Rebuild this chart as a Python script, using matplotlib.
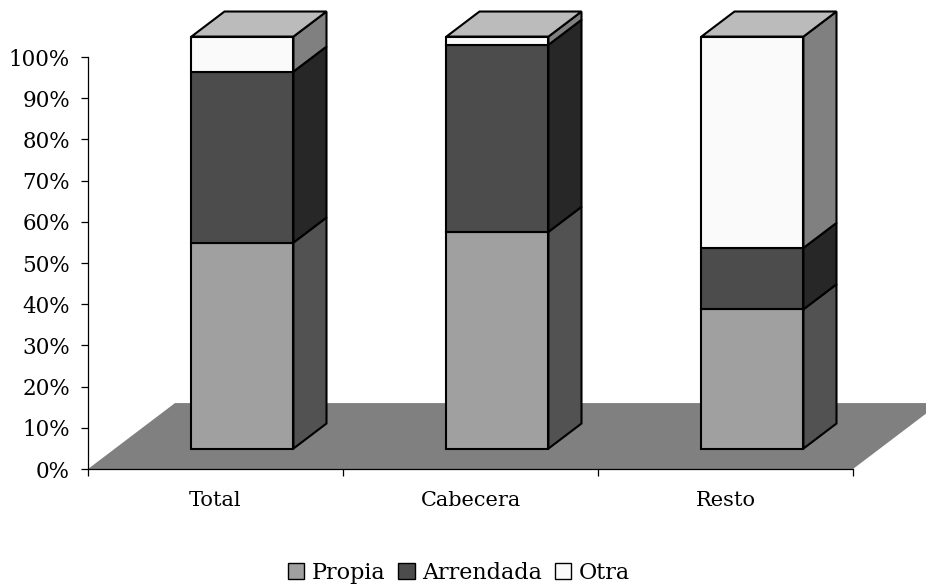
import numpy as np
import matplotlib.pyplot as plt
from matplotlib.patches import Polygon, Patch

categories = ["Total", "Cabecera", "Resto"]
series = ["Propia", "Arrendada", "Otra"]
propia = [50.0, 52.6, 33.8]
arrendada = [41.5, 45.4, 14.9]
otra = [8.5, 2.0, 51.3]

# front / side / top shades for each series
front_col = ["#a0a0a0", "#4c4c4c", "#fafafa"]
side_col = ["#525252", "#272727", "#808080"]
top_col = ["#bbbbbb", "#7a7a7a", "#bbbbbb"]

# oblique projection of depth
DX, DY = 0.341, 16.0
d0, d1 = 0.31, 0.69
bw = 0.4

def proj(x, y, d):
	return (x + d*DX, y + d*DY)

plt.rcParams['font.family'] = ['DejaVu Serif']
fig = plt.figure(figsize=(9.26, 5.87), dpi=100)
ax = fig.add_axes([88/926, (587-469)/587, (853-88)/926, 412/587])
ax.set_xlim(0, 3)
ax.set_ylim(0, 100)

# floor
floor = [proj(0, 0, 0), proj(3, 0, 0), proj(3, 0, 1), proj(0, 0, 1)]
ax.add_patch(Polygon(floor, closed=True, facecolor="#808080", edgecolor="none", clip_on=False, zorder=1))

vals = np.array([propia, arrendada, otra])
lw = 1.5
for i in range(len(categories)):
	xl = i + 0.5 - bw/2
	xr = i + 0.5 + bw/2
	bottom = 0
	for s in range(len(series)):
		top = bottom + vals[s][i]
		fr = [proj(xl, bottom, d0), proj(xr, bottom, d0), proj(xr, top, d0), proj(xl, top, d0)]
		sd = [proj(xr, bottom, d0), proj(xr, bottom, d1), proj(xr, top, d1), proj(xr, top, d0)]
		ax.add_patch(Polygon(fr, closed=True, facecolor=front_col[s], edgecolor="black", lw=lw, clip_on=False, zorder=3))
		ax.add_patch(Polygon(sd, closed=True, facecolor=side_col[s], edgecolor="black", lw=lw, clip_on=False, zorder=3))
		bottom = top
	tp = [proj(xl, 100, d0), proj(xr, 100, d0), proj(xr, 100, d1), proj(xl, 100, d1)]
	ax.add_patch(Polygon(tp, closed=True, facecolor=top_col[2], edgecolor="black", lw=lw, clip_on=False, zorder=3))

for sp in ["top", "right"]:
	ax.spines[sp].set_visible(False)
ax.spines["left"].set_linewidth(0.9)
ax.spines["bottom"].set_linewidth(0.9)
ax.spines["bottom"].set_zorder(2)

ax.set_yticks(np.arange(0, 101, 10))
ax.set_yticklabels([str(v) + "%" for v in range(0, 101, 10)])
ax.tick_params(axis="y", length=5, width=0.9, pad=8, labelsize=15.5)
ax.set_xticks([0, 1, 2, 3])
ax.set_xticklabels([])
ax.set_xticks([0.5, 1.5, 2.5], minor=True)
ax.set_xticklabels(categories, minor=True)
ax.tick_params(axis="x", which="major", length=5, width=0.9)
ax.tick_params(axis="x", which="minor", length=0, pad=16, labelsize=15)

handles = [Patch(facecolor=front_col[s], edgecolor="black", lw=1.0) for s in range(len(series))]
fig.legend(handles, series, loc="center", bbox_to_anchor=(459/926, 1-573/587), ncol=3, frameon=False,
	fontsize=16, handlelength=0.75, handleheight=0.75, handletextpad=0.35, columnspacing=0.55,
	borderpad=0, borderaxespad=0)

fig.savefig("out.png", dpi=100)
